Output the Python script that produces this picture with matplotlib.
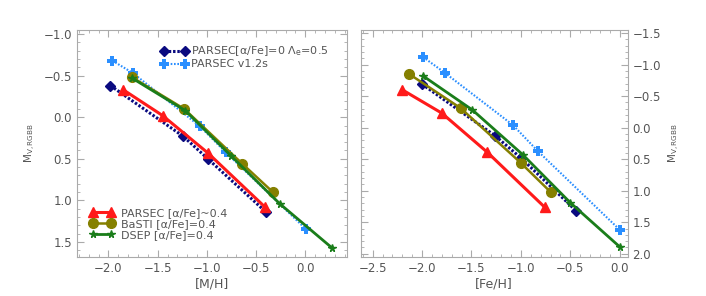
import matplotlib.pyplot as plt
from matplotlib.ticker import MultipleLocator, FuncFormatter

# Left panel: [M/H] vs M_V,RGBB
mh_parsec0 = [-1.98, -1.24, -0.99, -0.40]
mv_parsec0 = [-0.38, 0.23, 0.50, 1.14]
mh_v12s = [-1.96, -1.75, -1.07, -0.81, 0.01]
mv_v12s = [-0.68, -0.53, 0.11, 0.42, 1.35]
mh_parsec4 = [-1.85, -1.45, -0.99, -0.41]
mv_parsec4 = [-0.33, -0.02, 0.43, 1.08]
mh_basti = [-1.76, -1.23, -0.64, -0.33]
mv_basti = [-0.48, -0.10, 0.56, 0.90]
mh_dsep = [-1.76, -1.22, -0.75, -0.26, 0.27]
mv_dsep = [-0.47, -0.08, 0.47, 1.04, 1.57]

# Right panel: [Fe/H] vs M_V,RGBB
fe_parsec0 = [-2.00, -1.26, -1.00, -0.44]
mvr_parsec0 = [-0.69, 0.13, 0.48, 1.32]
fe_v12s = [-1.99, -1.77, -1.08, -0.83, 0.0]
mvr_v12s = [-1.12, -0.87, -0.04, 0.37, 1.62]
fe_parsec4 = [-2.20, -1.80, -1.34, -0.76]
mvr_parsec4 = [-0.60, -0.23, 0.39, 1.26]
fe_basti = [-2.13, -1.61, -1.00, -0.70]
mvr_basti = [-0.85, -0.31, 0.56, 1.02]
fe_dsep = [-1.99, -1.49, -0.98, -0.50, 0.0]
mvr_dsep = [-0.82, -0.28, 0.43, 1.19, 1.89]

textcolour = "#555555"
linecolour = "#aaaaaa"
navy = "#0a0a80"
lblue = "#2b8fff"
red = "#ff1a1a"
olive = "#858000"
green = "#1a7d1a"

fig = plt.figure(figsize=(7.06, 2.96), dpi=100)
ax1 = fig.add_axes([0.109, 0.132, 0.382, 0.767])
ax2 = fig.add_axes([0.511, 0.132, 0.378, 0.767])


def draw(ax, x0, y0, x1, y1, x2, y2, x3, y3, x4, y4):
    h0, = ax.plot(x0, y0, color=navy, lw=2.2, ls=(0, (0.8, 0.6)),
                  marker='D', ms=5,
                  label='PARSEC[α/Fe]=0 Λ$_{\\rm e}$=0.5')
    h1, = ax.plot(x1, y1, color=lblue, lw=1.5, ls=(0, (0.8, 0.8)),
                  marker='P', ms=7.5, mew=0, label='PARSEC v1.2s')
    h2, = ax.plot(x2, y2, '-', color=red, lw=2.2, marker='^', ms=7,
                  label='PARSEC [α/Fe]~0.4')
    h3, = ax.plot(x3, y3, '-', color=olive, lw=1.8, marker='o', ms=7,
                  label='BaSTI [α/Fe]=0.4')
    h4, = ax.plot(x4, y4, '-', color=green, lw=2, marker='*', ms=5.5,
                  label='DSEP [α/Fe]=0.4')
    return [h0, h1], [h2, h3, h4]


up, low = draw(ax1, mh_parsec0, mv_parsec0, mh_v12s, mv_v12s,
               mh_parsec4, mv_parsec4, mh_basti, mv_basti, mh_dsep, mv_dsep)
draw(ax2, fe_parsec0, mvr_parsec0, fe_v12s, mvr_v12s,
     fe_parsec4, mvr_parsec4, fe_basti, mvr_basti, fe_dsep, mvr_dsep)

ax1.set_xlim(-2.32, 0.42)
ax1.set_ylim(1.68, -1.05)
ax2.set_xlim(-2.62, 0.08)
ax2.set_ylim(2.05, -1.55)

fmt = FuncFormatter(lambda v, p: ('%.1f' % v).replace('-', '\u2212'))

for ax in (ax1, ax2):
    for s in ax.spines.values():
        s.set_color(linecolour)
    ax.xaxis.set_major_locator(MultipleLocator(0.5))
    ax.xaxis.set_minor_locator(MultipleLocator(0.1))
    ax.yaxis.set_major_locator(MultipleLocator(0.5))
    ax.yaxis.set_minor_locator(MultipleLocator(0.1))
    ax.tick_params(which='both', direction='in', top=True, right=True,
                   left=True, bottom=True, colors=linecolour,
                   labelcolor=textcolour, labelsize=8.5)
    ax.tick_params(which='major', length=5, width=0.8)
    ax.tick_params(which='minor', length=2.5, width=0.6)
    ax.xaxis.set_major_formatter(fmt)
    ax.yaxis.set_major_formatter(fmt)

ax2.yaxis.tick_right()
ax2.tick_params(which='both', left=True, right=True)
ax2.yaxis.set_label_position('right')

ax1.set_xlabel('[M/H]', color=textcolour, fontsize=9, labelpad=2)
ax2.set_xlabel('[Fe/H]', color=textcolour, fontsize=9, labelpad=2)
ax1.set_ylabel('M$_{\\rm V,RGBB}$', color=textcolour, fontsize=7.5)
ax2.set_ylabel('M$_{\\rm V,RGBB}$', color=textcolour, fontsize=7.5,
               rotation=90, labelpad=4)

leg1 = ax1.legend(handles=up, loc='upper left', bbox_to_anchor=(0.28, 0.97),
                  frameon=False, fontsize=8, handlelength=2.5, numpoints=2,
                  handletextpad=0.3, labelspacing=0.1, borderpad=0.2,
                  labelcolor=textcolour)
ax1.add_artist(leg1)
ax1.legend(handles=low, loc='lower left', bbox_to_anchor=(0.02, 0.04),
           frameon=False, fontsize=8, handlelength=2.2, numpoints=2,
           handletextpad=0.6, labelspacing=0.1, borderpad=0.2,
           labelcolor=textcolour)

fig.savefig('out.png', dpi=100)
